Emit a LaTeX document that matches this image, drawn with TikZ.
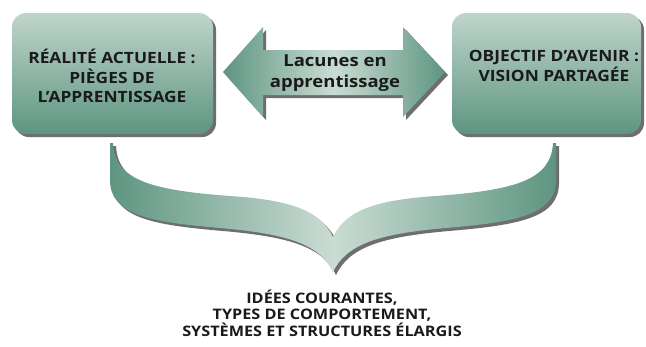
\documentclass[tikz,border=0pt]{standalone}
\usepackage{fontspec}
\setmainfont[FakeStretch=1.12]{Open Sans}
\usetikzlibrary{shadows}
\definecolor{gdark}{HTML}{5E9581}
\definecolor{glight}{HTML}{CADCD3}
\definecolor{shadowgray}{HTML}{6E6E6E}
\definecolor{txt}{HTML}{1A1A1A}
\tikzset{
  box/.style={rounded corners=14pt, top color=glight!90!gdark, bottom color=gdark, draw=none,
    general shadow={fill=shadowgray, shadow xshift=3pt, shadow yshift=-3pt}},
  boxtext/.style={font=\bfseries\fontsize{15.5}{19.5}\selectfont, text=txt, align=center, inner sep=0pt},
  arrtext/.style={font=\bfseries\fontsize{16.5}{21}\selectfont, text=txt, align=center, inner sep=0pt},
  bottext/.style={font=\bfseries\fontsize{14.5}{16.5}\selectfont, text=txt, align=center, inner sep=0pt},
  sh/.style={fill=shadowgray, draw=none},
  hgrad/.style={left color=gdark, right color=gdark, middle color=glight, draw=none}
}
\begin{document}
\begin{tikzpicture}[x=1pt,y=-1pt]
\useasboundingbox (0,0) rectangle (646,346);
% boxes
\node[box, minimum width=201pt, minimum height=121pt] (left) at (112.5,73.5) {};
\node[box, minimum width=189pt, minimum height=121pt] (right) at (546.5,73.5) {};
% double arrow
\def\arrowpath{(223,72) -- (263,27) -- (263,50) -- (403,50) -- (403,27) -- (445,72) -- (403,117) -- (403,95) -- (263,95) -- (263,117) -- cycle}
\fill[sh, shift={(3,3)}] \arrowpath;
\shade[hgrad] \arrowpath;
% brace
\def\bracepath{(110,143) -- (110,180) .. controls (110,215) and (150,222) .. (220,228)
  .. controls (290,234) and (320,245) .. (333,272)
  .. controls (346,245) and (376,234) .. (446,228)
  .. controls (516,222) and (556,215) .. (556,180) -- (556,143) -- (553,143)
  .. controls (551,180) and (516,190) .. (436,196)
  .. controls (376,200) and (346,210) .. (333,237)
  .. controls (320,210) and (290,200) .. (230,196)
  .. controls (150,190) and (115,180) .. (113,143) -- cycle}
\fill[sh, shift={(3,3)}] \bracepath;
\shade[hgrad] \bracepath;
% texts
\node[boxtext] (ltext) at (112,76) {RÉALITÉ ACTUELLE :\\PIÈGES DE\\L’APPRENTISSAGE};
\node[boxtext] (rtext) at (554,66) {OBJECTIF D’AVENIR :\\VISION PARTAGÉE};
\node[arrtext] (atext) at (335,73) {Lacunes en\\apprentissage};
\node[bottext] (btext) at (322,313) {IDÉES COURANTES,\\TYPES DE COMPORTEMENT,\\SYSTÈMES ET STRUCTURES ÉLARGIS};
\end{tikzpicture}
\end{document}
